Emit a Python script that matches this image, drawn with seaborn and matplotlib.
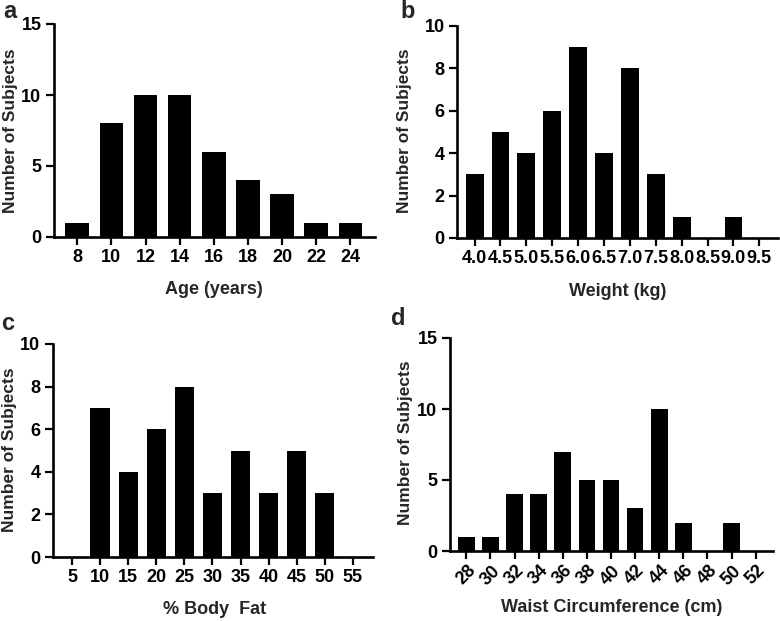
import matplotlib
matplotlib.use("Agg")
import matplotlib.pyplot as plt
import seaborn as sns
import pandas as pd

sns.set_style("ticks")
plt.rcParams["font.family"] = ["Liberation Sans", "DejaVu Sans"]
plt.rcParams["font.weight"] = "bold"

# ---- data ----
age_bins = ["8", "10", "12", "14", "16", "18", "20", "22", "24"]
age_counts = [1, 8, 10, 10, 6, 4, 3, 1, 1]

weight_bins = ["4.0", "4.5", "5.0", "5.5", "6.0", "6.5", "7.0", "7.5", "8.0", "8.5", "9.0", "9.5"]
weight_counts = [3, 5, 4, 6, 9, 4, 8, 3, 1, 0, 1, 0]

fat_bins = ["5", "10", "15", "20", "25", "30", "35", "40", "45", "50", "55"]
fat_counts = [0, 7, 4, 6, 8, 3, 5, 3, 5, 3, 0]

waist_bins = ["28", "30", "32", "34", "36", "38", "40", "42", "44", "46", "48", "50", "52"]
waist_counts = [1, 1, 4, 4, 7, 5, 5, 3, 10, 2, 0, 2, 0]

panels = [
    ("a", age_bins, age_counts, "Age (years)", [0, 5, 10, 15], 0),
    ("b", weight_bins, weight_counts, "Weight (kg)", [0, 2, 4, 6, 8, 10], 0),
    ("c", fat_bins, fat_counts, "% Body  Fat", [0, 2, 4, 6, 8, 10], 0),
    ("d", waist_bins, waist_counts, "Waist Circumference (cm)", [0, 5, 10, 15], 45),
]

W, H = 780, 621
# axes rectangles in pixels: left, right, top, bottom
rects = [
    (54, 375, 24, 237),
    (457, 778, 26, 238),
    (53, 373, 344, 557),
    (450, 773, 338, 551),
]
# label centres in pixels: ylabel (x, y), xlabel (x, y)
ylab_pos = [(10, 131), (404, 131), (9.5, 450), (406, 443)]
xlab_pos = [(214, 290), (618, 292), (215, 610), (612, 607)]

fig = plt.figure(figsize=(W / 100, H / 100), dpi=100)

for (letter, cats, vals, xlabel, yticks, rot), (l, r, t, b), yp, xp in zip(panels, rects, ylab_pos, xlab_pos):
    ax = fig.add_axes([l / W, 1 - b / H, (r - l) / W, (b - t) / H])
    df = pd.DataFrame({"bin": cats, "count": vals})
    sns.barplot(data=df, x="bin", y="count", order=cats, color="black",
                saturation=1, width=0.69, ax=ax, edgecolor="black", linewidth=0)
    n = len(cats)
    ax.set_xlim(-0.68, n - 1 + 0.72)
    ax.set_ylim(0, yticks[-1])
    ax.set_yticks(yticks)
    ax.set_yticklabels([str(v) for v in yticks])
    for s in ["top", "right"]:
        ax.spines[s].set_visible(False)
    for s in ["left", "bottom"]:
        ax.spines[s].set_linewidth(1.9)
        ax.spines[s].set_color("black")
    ax.tick_params(axis="both", length=6, width=1.6, color="black",
                   labelsize=13, pad=3, labelcolor="black")
    if rot:
        ax.set_xticks(range(n))
        ax.set_xticklabels(cats, rotation=45, ha="center")
        ax.tick_params(axis="x", pad=2)
    ax.set_xlabel(xlabel, fontsize=13, fontweight="bold")
    ax.set_ylabel("Number of Subjects", fontsize=12.5, fontweight="bold")
    ax.xaxis.label.set_va("center")
    ax.yaxis.label.set_va("center")
    ax.xaxis.set_label_coords((xp[0] - l) / (r - l), (b - xp[1]) / (b - t))
    ax.yaxis.set_label_coords((yp[0] - l) / (r - l), (b - yp[1]) / (b - t))
    for lab in ax.get_xticklabels() + ax.get_yticklabels():
        lab.set_fontweight("bold")
    ax.set_facecolor("white")

letters = [("a", 10, 12), ("b", 408, 11), ("c", 8, 323), ("d", 398, 318)]
for txt, x, y in letters:
    fig.text(x / W, 1 - y / H, txt, fontsize=17, fontweight="bold",
             ha="center", va="center")

fig.savefig("out.png", dpi=100, facecolor="white")
